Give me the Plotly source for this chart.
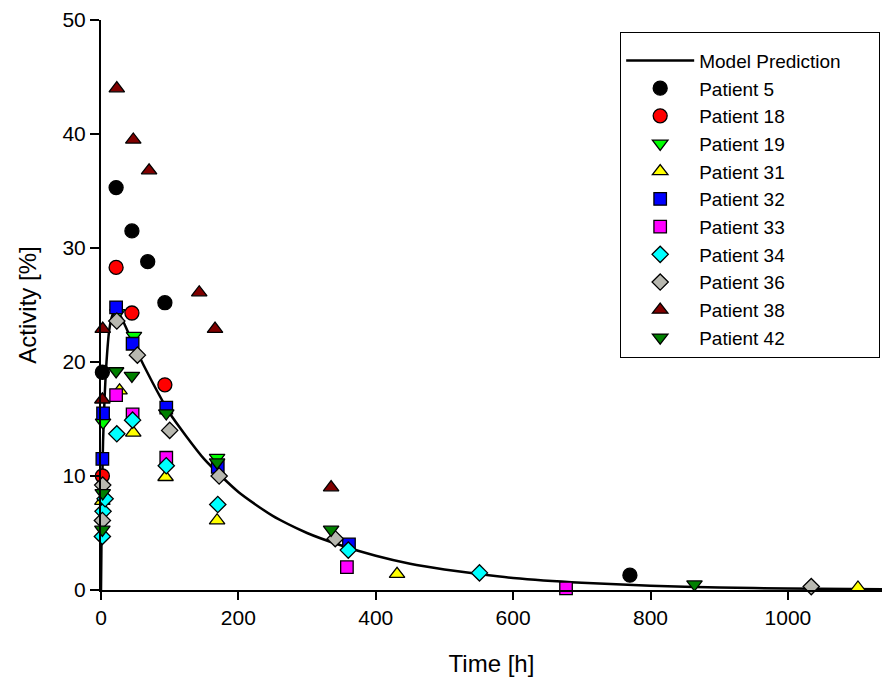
import plotly.graph_objects as go

# Model prediction curve
model_t = [0, 0.5, 1, 2, 3, 5, 8, 12, 16, 20, 25, 35, 50, 75, 100, 150, 200, 250, 300,
           350, 400, 450, 500, 550, 600, 700, 800, 900, 1000, 1137]
model_y = [0, 3, 6, 10, 13, 16.5, 20, 22.8, 24.0, 24.5, 24.4, 23.2, 21.2, 18.2, 15.5,
           11.5, 8.6, 6.5, 5.0, 3.9, 3.0, 2.3, 1.8, 1.4, 1.05, 0.63, 0.38, 0.22, 0.13, 0.07]

# Patients
p5_t = [2, 22, 45, 68, 93, 770]
p5_y = [19.1, 35.3, 31.5, 28.8, 25.2, 1.3]

p18_t = [2, 22, 45, 93]
p18_y = [10.0, 28.3, 24.3, 18.0]

p19_t = [3, 24, 48, 169]
p19_y = [14.7, 24.3, 22.3, 11.6]

p31_t = [2, 27, 47, 94, 169, 431, 1102]
p31_y = [7.8, 17.5, 13.8, 9.9, 6.1, 1.4, 0.2]

p32_t = [2, 3, 22, 46, 95, 170, 361]
p32_y = [11.5, 15.5, 24.8, 21.6, 16.0, 10.8, 4.0]

p33_t = [22, 46, 95, 358, 677]
p33_y = [17.1, 15.4, 11.6, 2.0, 0.15]

p34_t = [2, 3, 6, 23, 46, 95, 170, 360, 551]
p34_y = [4.7, 6.9, 8.0, 13.7, 14.9, 10.9, 7.5, 3.5, 1.5]

p36_t = [2, 2.5, 23, 53, 100, 172, 341, 1034]
p36_y = [6.1, 9.2, 23.6, 20.6, 14.0, 10.0, 4.5, 0.3]

p38_t = [2, 2.5, 23, 47, 70, 143, 166, 335]
p38_y = [16.7, 22.9, 44.0, 39.5, 36.8, 26.1, 22.9, 9.0]

p42_t = [2, 2.5, 22, 45, 95, 169, 335, 864]
p42_y = [5.3, 8.5, 19.2, 18.8, 15.5, 11.2, 5.3, 0.5]

patients = [
    ("Patient 5", p5_t, p5_y, "circle", "#000000", 14),
    ("Patient 18", p18_t, p18_y, "circle", "#FF0000", 14),
    ("Patient 19", p19_t, p19_y, "triangle-down", "#00FF00", 13.5),
    ("Patient 31", p31_t, p31_y, "triangle-up", "#FFFF00", 13.5),
    ("Patient 32", p32_t, p32_y, "square", "#0000FF", 12.5),
    ("Patient 33", p33_t, p33_y, "square", "#FF00FF", 12.5),
    ("Patient 34", p34_t, p34_y, "diamond", "#00FFFF", 12.5),
    ("Patient 36", p36_t, p36_y, "diamond", "#B8B8B0", 12.5),
    ("Patient 38", p38_t, p38_y, "triangle-up", "#800000", 13.5),
    ("Patient 42", p42_t, p42_y, "triangle-down", "#008000", 13.5),
]

fig = go.Figure()
fig.add_trace(go.Scatter(x=model_t, y=model_y, mode="lines", name="Model Prediction",
                         line=dict(color="black", width=2.5, shape="spline", smoothing=0.6),
                         cliponaxis=False))
for name, t, y, sym, col, sz in patients:
    fig.add_trace(go.Scatter(x=t, y=y, mode="markers", name=name, cliponaxis=False,
                             marker=dict(symbol=sym, color=col, size=sz,
                                         line=dict(color="black", width=1.3))))

font = "Liberation Sans, Arial, sans-serif"
legend_spacer = "\u00a0" * 140  # invisible title that only sets the legend box width
fig.update_layout(
    width=882, height=684,
    margin=dict(l=101, r=0, t=20, b=94),
    paper_bgcolor="white", plot_bgcolor="white",
    font=dict(family=font, size=21, color="black"),
    showlegend=True,
    legend=dict(x=0.6645, y=0.979, xanchor="left", yanchor="top",
                bordercolor="black", borderwidth=1.2, bgcolor="white",
                font=dict(size=19), itemwidth=68, tracegroupgap=0,
                title=dict(text=legend_spacer, font=dict(size=6.5))),
    xaxis=dict(range=[0, 1137], tickvals=[0, 200, 400, 600, 800, 1000],
               showline=True, linecolor="black", linewidth=2, showgrid=False, zeroline=False,
               ticks="outside", ticklen=8, tickwidth=1.5, tickcolor="black",
               title=dict(text="Time [h]", font=dict(size=24), standoff=27)),
    yaxis=dict(range=[0, 50], tickvals=[0, 10, 20, 30, 40, 50],
               showline=True, linecolor="black", linewidth=2, showgrid=False, zeroline=False,
               ticks="outside", ticklen=9, tickwidth=1.5, tickcolor="black",
               title=dict(text="Activity [%]", font=dict(size=24), standoff=19)),
)

fig.write_html("out.html", config={"displayModeBar": False},
               post_script="document.body.style.margin='0';document.body.style.overflow='hidden';")
